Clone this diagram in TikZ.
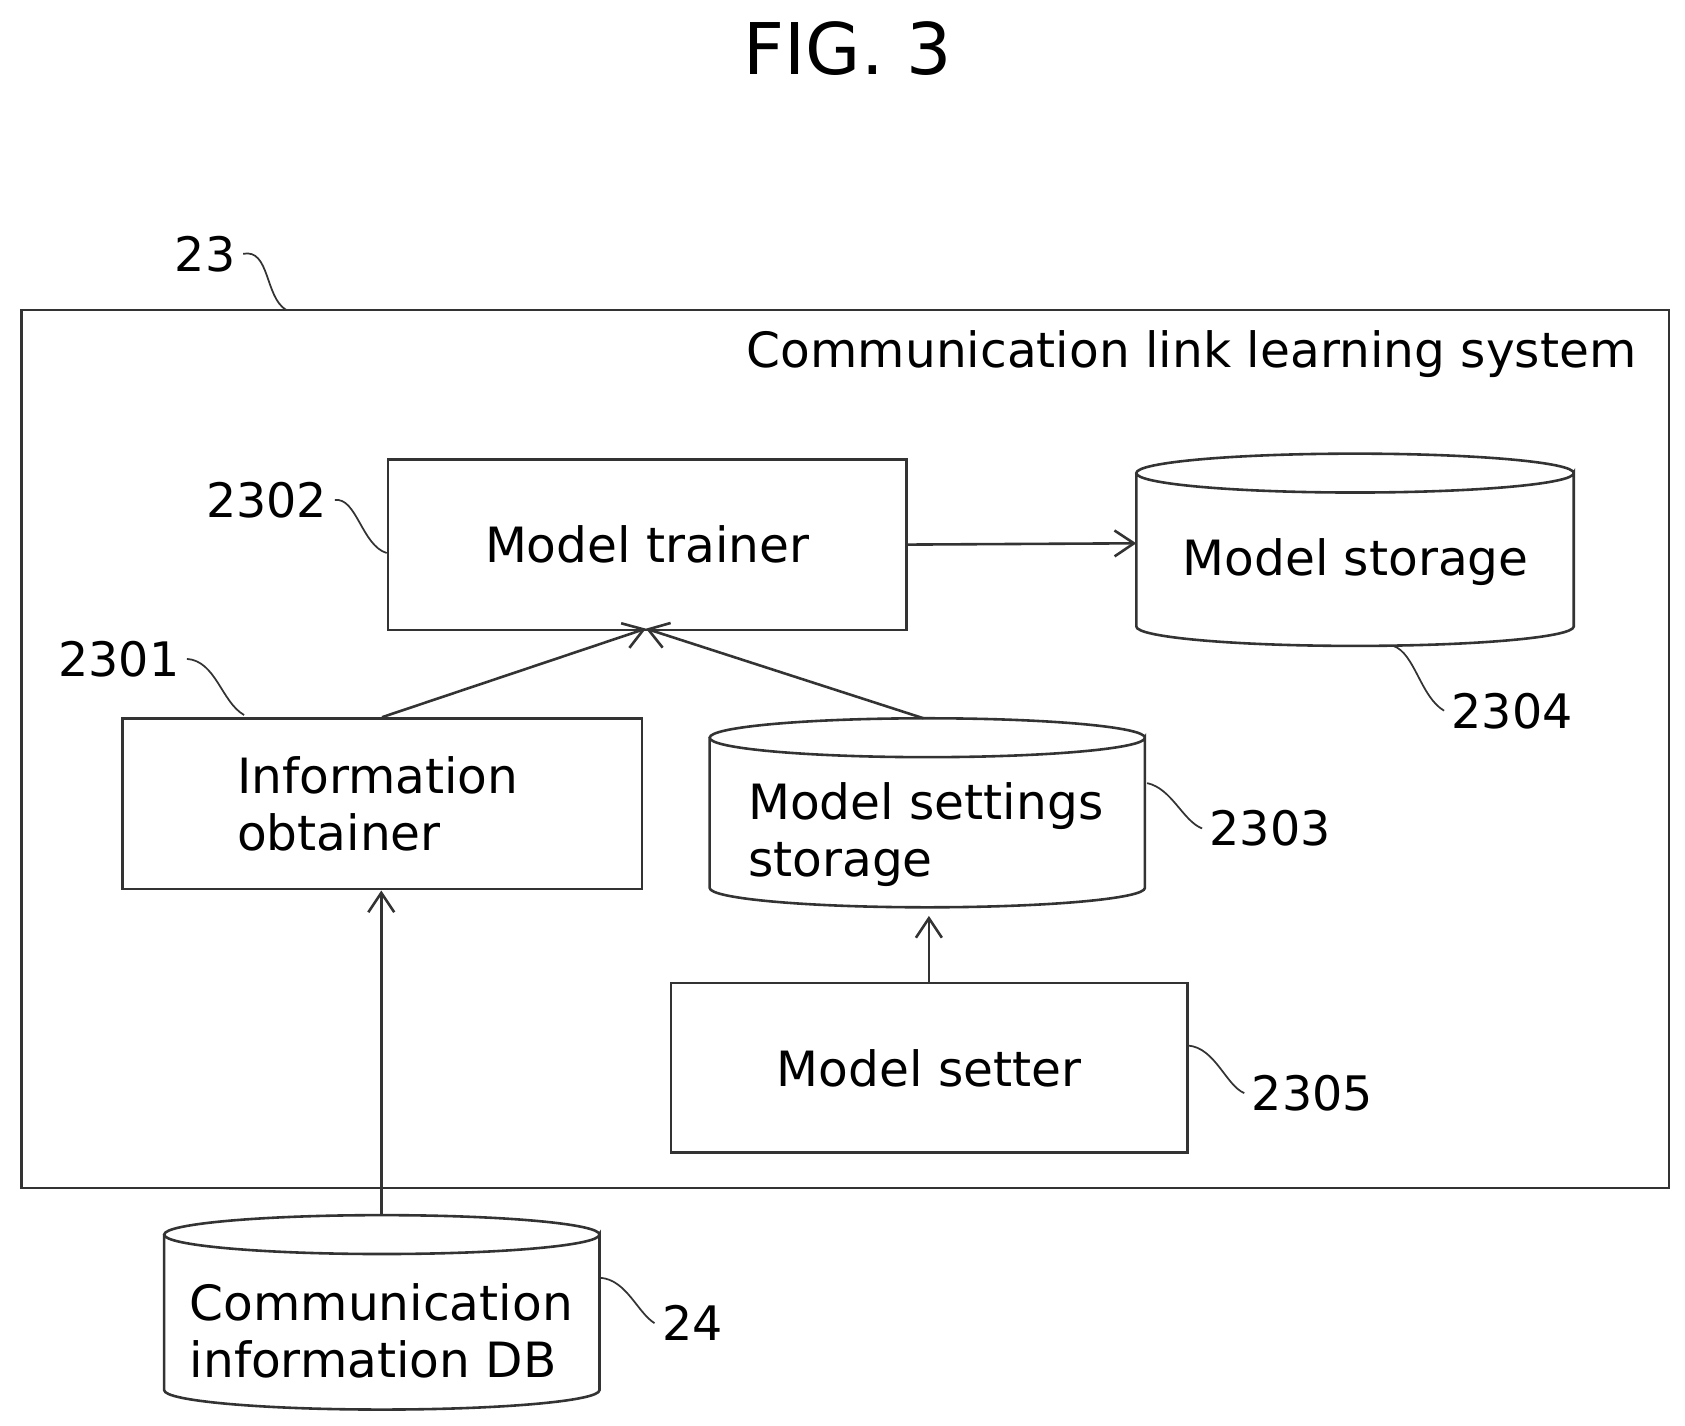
\documentclass[tikz,border=0pt]{standalone}
\usepackage{fontspec}
\setmainfont{DejaVu Sans}
\usetikzlibrary{arrows.meta}
\begin{document}
\begin{tikzpicture}[x=0.5pt,y=-0.5pt,
  ln/.style={draw=black!80,line width=1.2pt},
  arr/.style={ln,-{Straight Barb[length=9pt,width=12pt,line width=1.2pt]}},
  box/.style={ln,rectangle,font=\fontsize{22.5}{26.5}\selectfont},
  txt/.style={font=\fontsize{22.5}{26.5}\selectfont,align=left},
  num/.style={font=\fontsize{22}{26}\selectfont},
  lead/.style={draw=black!80,line width=0.8pt}]
\useasboundingbox (0,0) rectangle (1560,1320);
\node[font=\fontsize{33}{36}\selectfont] (fig) at (785,45) {FIG. 3};
% outer
\draw[ln] (20,287) rectangle (1545,1100);
\node[txt,anchor=east] (sys) at (1522,328) {Communication link learning system};
\node[num] (n23) at (190,235) {23};
\draw[lead] (n23.east) .. controls (250,230) and (245,275) .. (265,287);
% boxes
\node[box,minimum width=240pt,minimum height=79pt,anchor=north west] (tr) at (358,424) {Model trainer};
\node[box,minimum width=240.5pt,minimum height=79pt,anchor=north west,align=left] (io) at (112,664) {Information\\obtainer\phantom{xxx}};
\node[box,minimum width=239pt,minimum height=78.5pt,anchor=north west] (se) at (620,909) {Model setter};
% cylinders
\newcommand\cyl[5]{% x1 x2 ytop ybot ry
  \draw[ln] (#1,#3+#5) -- (#1,#4-#5) arc[start angle=180,end angle=0,x radius={(#2-#1)/2},y radius=#5]
    -- (#2,#3+#5) arc[start angle=0,end angle=360,x radius={(#2-#1)/2},y radius=#5];}
\cyl{1052}{1457}{420}{598}{18}
\cyl{657}{1060}{665}{840}{18}
\cyl{152}{555}{1125}{1305}{18}
\node[txt] (st) at (1255,520) {Model storage};
\node[txt] (mss) at (858,773) {Model settings\\storage\phantom{xxxxxx}};
\node[txt] (db) at (353,1232) {Communication\\information DB};
\coordinate (stw) at (1052,503);
\coordinate (msstop) at (855,665);
\coordinate (mssbot) at (860,848);
\coordinate (dbtop) at (353,1125);
\coordinate (tip) at (598,582);
% arrows
\draw[arr] (io.north) -- (tip);
\draw[arr] (msstop) -- (tip);
\draw[arr] (tr.east) -- (stw);
\draw[arr] (se.north -| mssbot) -- (mssbot);
\draw[arr] (dbtop) -- (dbtop |- io.south);
% numbers
\node[num] (n2302) at (247,463) {2302};
\draw[lead] (n2302.east) .. controls (330,460) and (335,505) .. (358,512);
\node[num] (n2301) at (110,610) {2301};
\draw[lead] (n2301.east) .. controls (200,612) and (205,650) .. (226,662);
\node[num] (n2304) at (1400,658) {2304};
\draw[lead] (1290,598) .. controls (1310,605) and (1315,645) .. (n2304.west);
\node[num] (n2303) at (1176,767) {2303};
\draw[lead] (1062,725) .. controls (1085,730) and (1095,760) .. (n2303.west);
\node[num] (n2305) at (1215,1012) {2305};
\draw[lead] (1100,968) .. controls (1125,970) and (1135,1005) .. (n2305.west);
\node[num] (n24) at (641,1225) {24};
\draw[lead] (556,1183) .. controls (580,1185) and (590,1215) .. (n24.west);
\end{tikzpicture}
\end{document}
